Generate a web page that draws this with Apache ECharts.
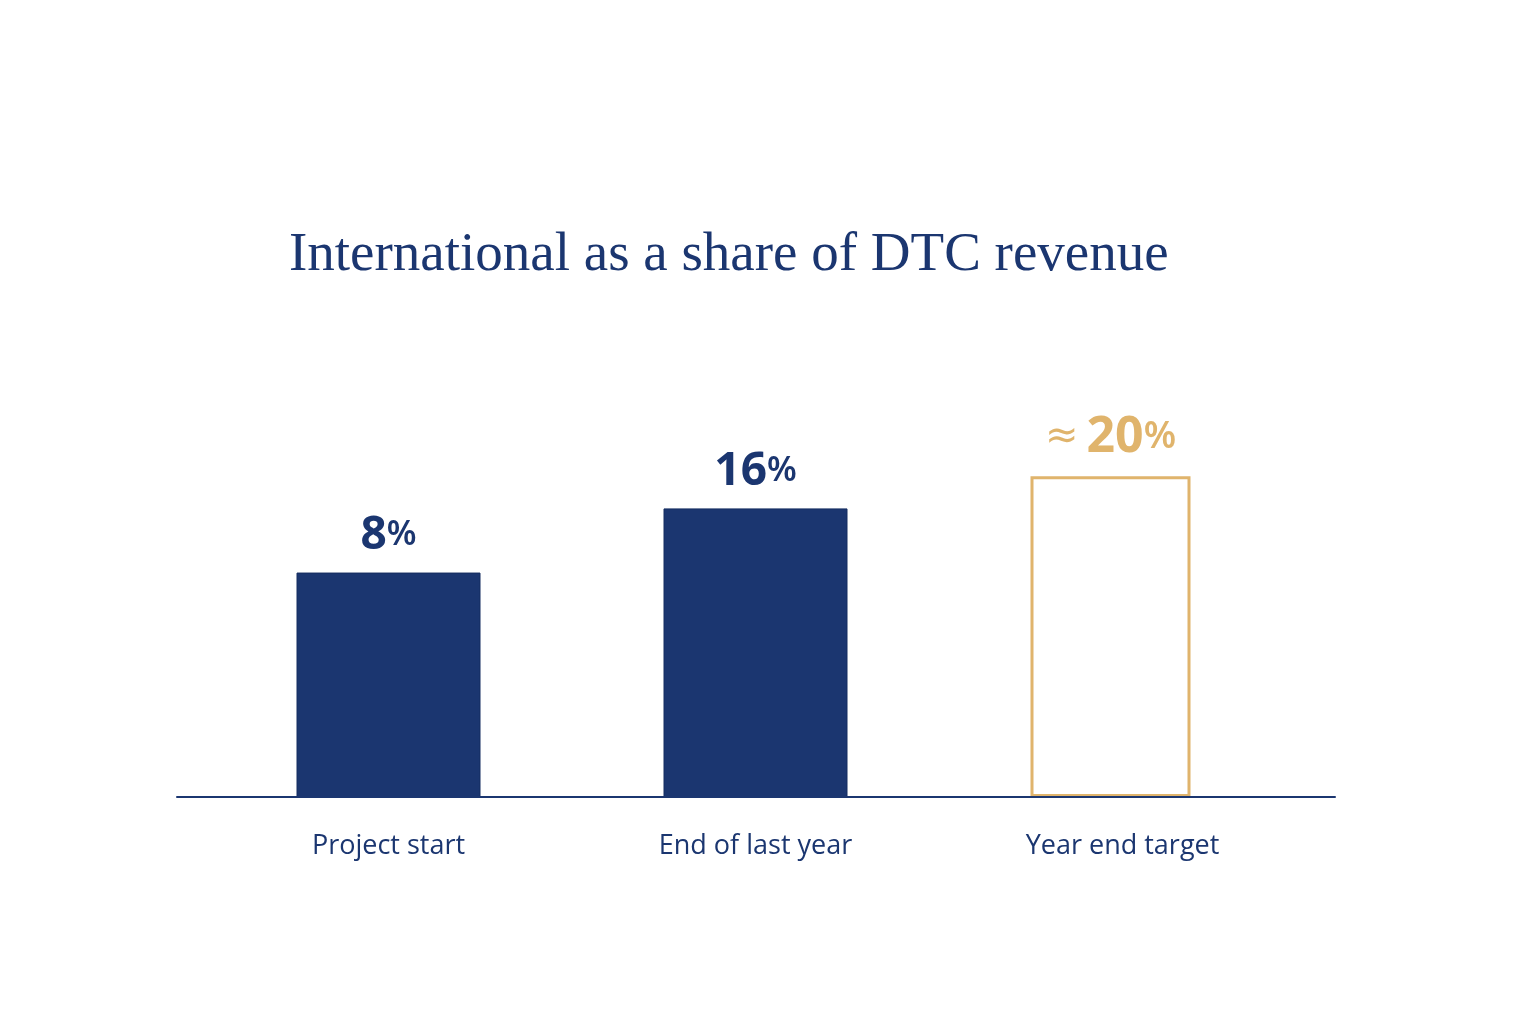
<!DOCTYPE html>
<html>
<head>
<meta charset="utf-8">
<title>International as a share of DTC revenue</title>
<script src="https://cdn.jsdelivr.net/npm/echarts@6/dist/echarts.min.js"></script>
<style>
  html, body { margin: 0; padding: 0; background: #ffffff; }
  #chart { width: 1536px; height: 1024px; }
</style>
</head>
<body>
<div id="chart"></div>
<script>
const categories = ["Project start", "End of last year", "Year end target"];
const actualValues = [8, 16, "-"];
const targetValues = ["-", "-", 20];
const TITLE = "International as a share of DTC revenue";

const NAVY = "#1b3670";
const GOLD = "#e0b46c";

const chart = echarts.init(document.getElementById("chart"));

function valueLabel(color, prefix, big) {
  return {
    show: true,
    position: "top",
    distance: 14,
    formatter: ({ value }) => (prefix ? `{pre|${prefix}}` : "") + `{num|${value}}{pct|%}`,
    rich: {
      pre: { color: color, fontFamily: "DejaVu Sans", fontWeight: 400, fontSize: 40, padding: [0, 8, 0, 0] },
      num: { color: color, fontFamily: "Noto Sans", fontWeight: 700, fontSize: big ? 50 : 46 },
      pct: { color: color, fontFamily: "Noto Sans", fontWeight: 600, fontSize: big ? 37 : 34 },
    },
  };
}

chart.setOption({
  backgroundColor: "#ffffff",
  animation: false,
  title: {
    text: TITLE,
    left: 284,
    top: 223,
    textStyle: {
      fontFamily: "Liberation Serif",
      fontWeight: 400,
      fontSize: 55,
      color: NAVY,
    },
  },
  grid: [
    { left: 205, right: 230, top: 300, bottom: 227 },
    { left: 177, right: 201, top: 300, bottom: 227 },
  ],
  xAxis: [
    {
      type: "category",
      gridIndex: 0,
      data: categories,
      axisLine: { show: false, onZero: false },
      axisTick: { show: false },
      axisLabel: {
        color: NAVY,
        fontFamily: "Open Sans",
        fontSize: 27,
        margin: 36,
      },
    },
    {
      type: "category",
      gridIndex: 1,
      data: categories,
      axisLine: { show: true, onZero: false, lineStyle: { color: NAVY, width: 2 } },
      axisTick: { show: false },
      axisLabel: { show: false },
      z: 5,
    },
  ],
  yAxis: [
    { type: "value", gridIndex: 0, min: -20, max: 42, startValue: -20, show: false },
    { type: "value", gridIndex: 1, min: -20, max: 42, startValue: -20, show: false },
  ],
  series: [
    {
      name: "Target",
      type: "bar",
      xAxisIndex: 0,
      yAxisIndex: 0,
      data: targetValues,
      barWidth: 160,
      barGap: "-100%",
      itemStyle: { color: "#ffffff", borderColor: GOLD, borderWidth: 3 },
      label: valueLabel(GOLD, "≈", true),
      z: 3,
    },
    {
      name: "Actual",
      type: "bar",
      xAxisIndex: 0,
      yAxisIndex: 0,
      data: actualValues,
      barWidth: 184,
      itemStyle: { color: NAVY, borderColor: "#142d60", borderWidth: 1 },
      label: valueLabel(NAVY, "", false),
      z: 2,
    },
  ],
});

window.addEventListener("resize", () => chart.resize());
</script>
</body>
</html>
